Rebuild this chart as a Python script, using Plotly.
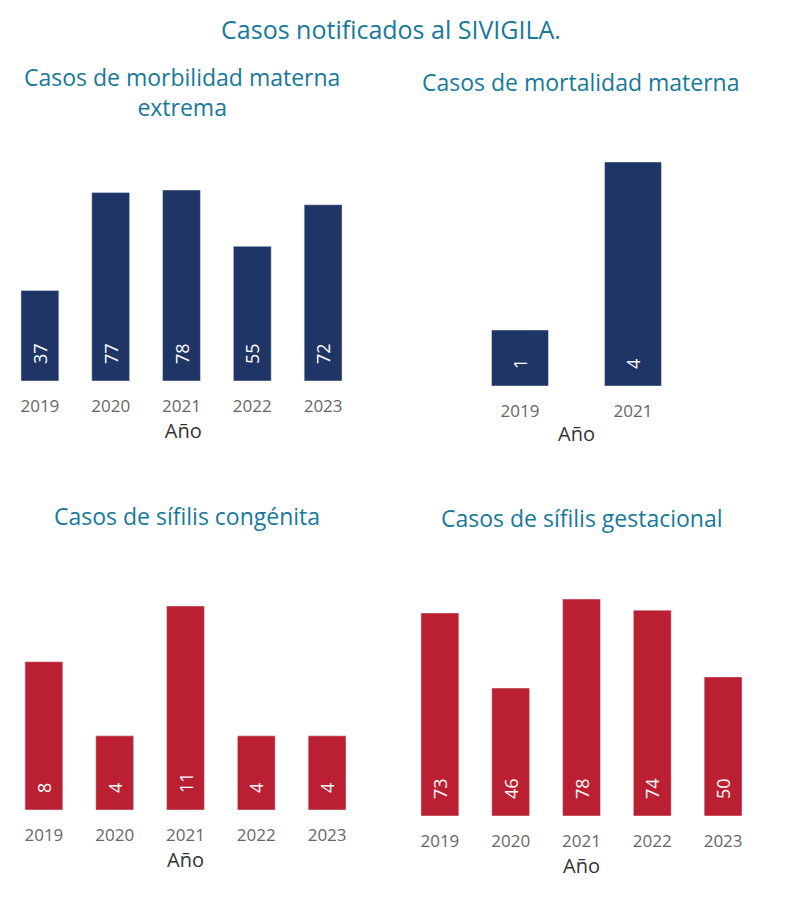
import plotly.graph_objects as go

# datos
anios_morb = ["2019", "2020", "2021", "2022", "2023"]
morbilidad = [37, 77, 78, 55, 72]

anios_mort = ["2019", "2021"]
mortalidad = [1, 4]

anios_cong = ["2019", "2020", "2021", "2022", "2023"]
congenita = [8, 4, 11, 4, 4]

anios_gest = ["2019", "2020", "2021", "2022", "2023"]
gestacional = [73, 46, 78, 74, 50]

titulos = ["Casos de morbilidad materna<br>extrema", "Casos de mortalidad materna",
           "Casos de sífilis congénita", "Casos de sífilis gestacional"]

AZUL = "#1f3566"
ROJO = "#bb1f32"
TEAL = "#17799a"
FONT = "Open Sans"

W, H = 796, 903
OFF = 8  # margen del body en la página

def eje_x(a, b, n):
    # dominio en papel y rango de categorías; recorta si el borde queda fuera
    a, b = a - OFF, b - OFF
    paso = (b - a) / n
    lo = -0.5
    if a < 0:
        lo += -a / paso
        a = 0
    return [a / W, b / W], [lo, n - 0.5]

def px_y(bottom, top):
    return [1 - (bottom - OFF) / H, 1 - (top - OFF) / H]

paneles = [
    (anios_morb, morbilidad, AZUL, (4.5, 358.5), px_y(381, 190), 0.535),
    (anios_mort, mortalidad, AZUL, (463.5, 689.5), px_y(386, 162), 0.504),
    (anios_cong, congenita, ROJO, (8.5, 362.5), px_y(810, 606), 0.535),
    (anios_gest, gestacional, ROJO, (404.5, 758.5), px_y(816, 599), 0.535),
]

fig = go.Figure()
for i, (x, y, color, bx, dy, w) in enumerate(paneles):
    n = "" if i == 0 else str(i + 1)
    dx, rx = eje_x(bx[0], bx[1], len(x))
    fig.add_trace(go.Bar(
        x=x, y=y, marker_color=color, width=w,
        text=["\u00a0\u00a0\u00a0" + str(v) for v in y], textposition="inside",
        insidetextanchor="start", textangle=-90,
        textfont=dict(color="white", size=18, family=FONT),
        xaxis="x" + n, yaxis="y" + n, showlegend=False, cliponaxis=False,
    ))
    fig.layout["xaxis" + n] = dict(
        domain=dx, range=rx, anchor="y" + n, type="category", showgrid=False, zeroline=False,
        showline=False, ticks="outside", ticklen=10, tickcolor="rgba(0,0,0,0)",
        tickfont=dict(size=17, color="#666666", family=FONT),
        title=dict(text="Año", font=dict(size=20, color="#333333", family=FONT), standoff=5),
    )
    fig.layout["yaxis" + n] = dict(
        domain=dy, anchor="x" + n, range=[0, max(y)], visible=False,
    )

# títulos de cada panel
pos_titulos = [(182, 92), (580, 82), (187, 516), (582, 518)]
for t, (cx, cy) in zip(titulos, pos_titulos):
    fig.add_annotation(text=t, x=(cx - OFF) / W, y=1 - (cy - OFF) / H, xref="paper", yref="paper",
                       showarrow=False, xanchor="center", yanchor="middle",
                       font=dict(size=23, color=TEAL, family=FONT))

fig.update_layout(
    width=W, height=H, margin=dict(l=0, r=0, t=0, b=0),
    paper_bgcolor="white", plot_bgcolor="white",
    title=dict(text="Casos notificados al SIVIGILA.", x=(391 - OFF) / W, xanchor="center",
               y=1 - (30 - OFF) / H, yanchor="middle", font=dict(size=25, color=TEAL, family=FONT)),
)

fig.write_html("out.html")
